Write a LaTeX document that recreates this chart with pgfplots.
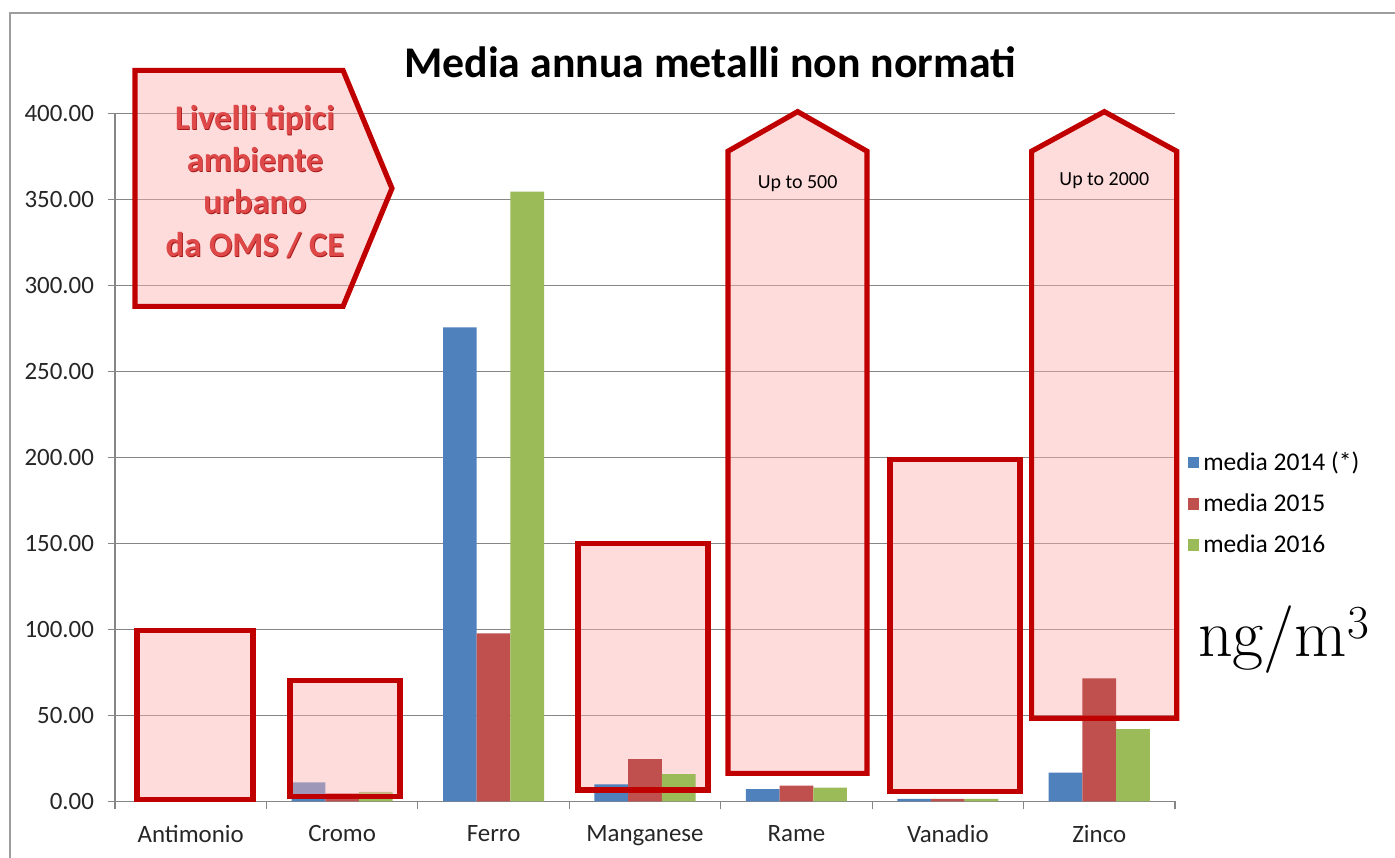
\documentclass[border=0pt]{standalone}
\usepackage{pgfplots}
\pgfplotsset{compat=1.18}
\usepackage{fontspec}
\setmainfont{Carlito}
\newfontfamily\lmr{Latin Modern Roman}
\definecolor{b14}{RGB}{79,129,189}
\definecolor{r15}{RGB}{192,80,77}
\definecolor{g16}{RGB}{155,187,89}
\definecolor{gridc}{RGB}{134,134,134}
\definecolor{shred}{RGB}{192,0,0}
\definecolor{shfill}{RGB}{255,178,178}
\definecolor{txtred}{RGB}{222,72,72}
\definecolor{txtdark}{RGB}{165,25,25}
\tikzset{sh/.style={draw=shred, line width=2.6bp, fill=shfill, fill opacity=0.45, line join=miter},
  shf/.style={draw=none, fill=shfill, fill opacity=0.45},
  shd/.style={draw=shred, line width=2.6bp, line join=miter}}
\begin{document}
\begin{tikzpicture}
\useasboundingbox (0,0) rectangle (697.5bp,429bp);
\fill[white] (0,0) rectangle (697.5bp,429bp);
\draw[gridc!80, line width=1.2bp] (5bp,-2bp) -- (5bp,422.5bp) -- (700bp,422.5bp);
\begin{axis}[
  at={(57.5bp,28.3bp)}, anchor=south west,
  width=530bp, height=344bp, scale only axis,
  xmin=-0.5, xmax=6.5, ymin=0, ymax=400,
  axis lines*=left,
  xtick={0,...,6},
  xticklabels={Antimonio,Cromo,Ferro,Manganese,Rame,Vanadio,Zinco},
  major x tick style={draw=none},
  minor xtick={-0.5,0.5,...,6.5},
  ytick={0,50,...,400},
  tick align=outside,
  major tick length=3.5bp, minor tick length=4bp,
  ymajorgrids, grid style={gridc, line width=0.6bp},
  axis line style={gridc, line width=0.6bp},
  tick style={gridc, line width=0.6bp},
  /pgf/number format/fixed, /pgf/number format/fixed zerofill,
  /pgf/number format/precision=2, /pgf/number format/assume math mode=true,
  ticklabel style={font=\fontsize{12.5}{14}\selectfont, text=black!85},
  xticklabel style={yshift=-5bp},
  yticklabel style={xshift=-3.5bp},
  ybar=0pt, bar width=16.85bp,
  clip=false,
  legend style={at={(1.012,0.433)}, anchor=west, draw=none, fill=none,
    font=\fontsize{12.8}{14}\selectfont, row sep=6.2bp, inner sep=0pt},
  legend cell align=left,
  legend image code/.code={\draw[#1, draw=none] (0bp,-2.8bp) rectangle (5.6bp,2.8bp);},
]
% pale fills behind the bars
\addplot[draw=none, forget plot, mark=none] coordinates {(0,0)};
\fill[shf] (-0.355,1.2) rectangle (0.411,99.5);
\fill[shf] (2.557,6.6) rectangle (3.416,150);
\fill[shf] (3.548,16.3) -- (3.548,378) -- (4.008,401) -- (4.466,378) -- (4.466,16.3) -- cycle;
\fill[shf] (4.618,5.6) rectangle (5.476,198.8);
\fill[shf] (5.553,48.3) -- (5.553,378) -- (6.033,401) -- (6.511,378) -- (6.511,48.3) -- cycle;
\addplot[fill=b14, draw=none] coordinates {(0,0) (1,11) (2,275.6) (3,9.9) (4,7.1) (5,1.5) (6,16.7)};
\addplot[fill=r15, draw=none] coordinates {(0,0) (1,4.7) (2,97.7) (3,24.6) (4,9.1) (5,1.5) (6,71.5)};
\addplot[fill=g16, draw=none] coordinates {(0,0) (1,5.6) (2,354.5) (3,15.9) (4,8.0) (5,1.5) (6,42.0)};
\legend{media 2014 (*),media 2015,media 2016}
% outlines over the bars
\draw[shd] (-0.355,1.2) rectangle (0.411,99.5);
\draw[sh] (0.656,2.9) rectangle (1.382,70.3);
\draw[shd] (2.557,6.6) rectangle (3.416,150);
\draw[shd] (3.548,16.3) -- (3.548,378) -- (4.008,401) -- (4.466,378) -- (4.466,16.3) -- cycle;
\draw[shd] (4.618,5.6) rectangle (5.476,198.8);
\draw[shd] (5.553,48.3) -- (5.553,378) -- (6.033,401) -- (6.511,378) -- (6.511,48.3) -- cycle;
\draw[sh] (-0.368,287.8) -- (-0.368,425) -- (1.006,425) -- (1.329,356.4) -- (1.006,287.8) -- cycle;
\node[font=\fontsize{10}{12}\selectfont] at (4.008,359) {Up to 500};
\node[font=\fontsize{10}{12}\selectfont] at (6.033,361) {Up to 2000};
\node[align=center, font=\bfseries\fontsize{17.3}{21.3}\selectfont, text=txtdark] at (0.4295,359.9) {Livelli tipici\\ambiente\\urbano\\da OMS / CE};
\node[align=center, font=\bfseries\fontsize{17.3}{21.3}\selectfont, text=txtred] at (0.4245,360.5) {Livelli tipici\\ambiente\\urbano\\da OMS / CE};
\end{axis}
\node[font=\bfseries\fontsize{22}{26}\selectfont] at (355bp,398bp) {Media annua metalli non normati};
\node[font=\lmr\fontsize{34}{38}\selectfont] at (642bp,109bp) {ng/m\textsuperscript{3}};
\end{tikzpicture}
\end{document}
